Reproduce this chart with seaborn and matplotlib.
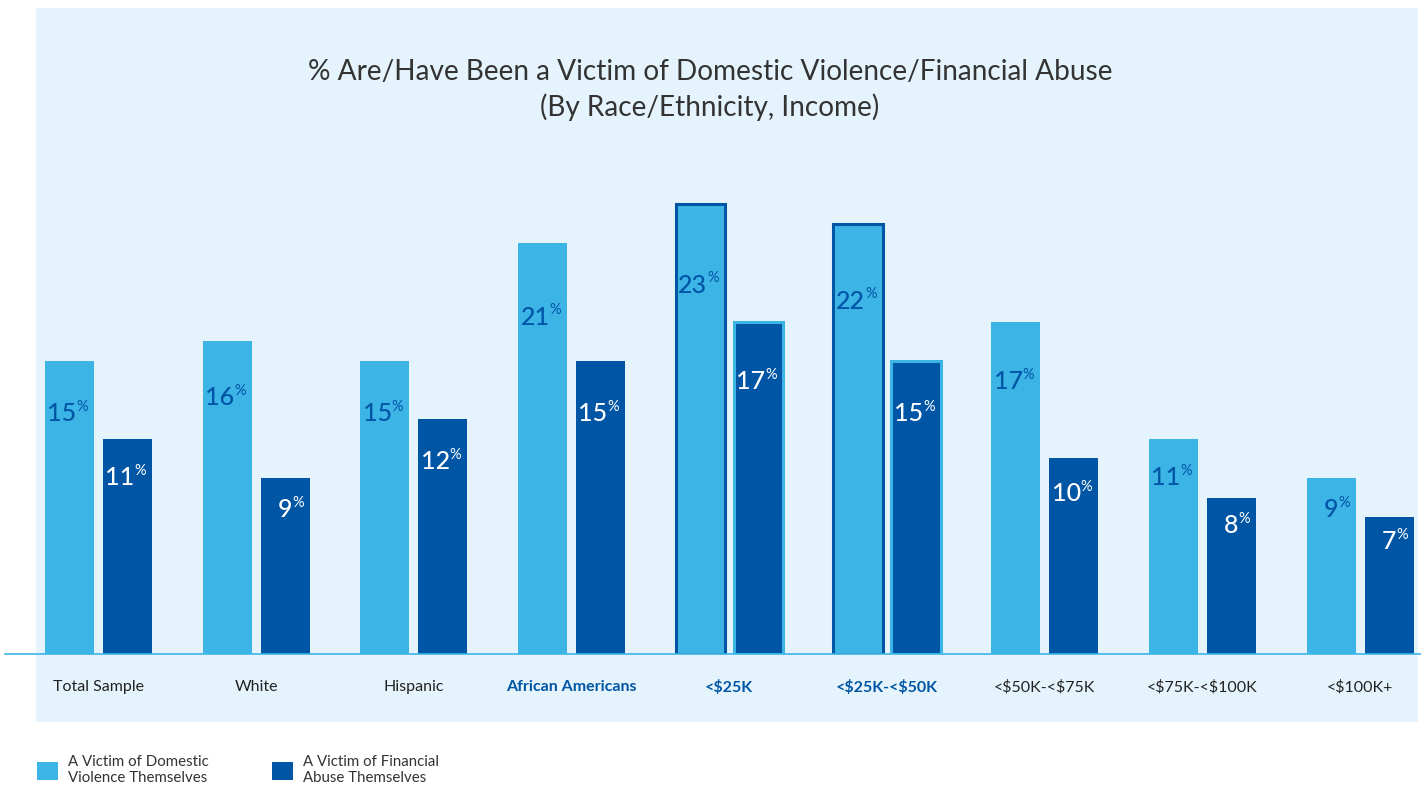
import pandas as pd
import seaborn as sns
import matplotlib.pyplot as plt
from matplotlib.patches import Rectangle

# ---------------------------------------------------------
# DATA
# ---------------------------------------------------------
categories = ['Total Sample', 'White', 'Hispanic', 'African Americans', '<$25K',
              '<$25K-<$50K', '<$50K-<$75K', '<$75K-<$100K', '<$100K+']
domestic_violence = [15, 16, 15, 21, 23, 22, 17, 11, 9]
financial_abuse = [11, 9, 12, 15, 17, 15, 10, 8, 7]
series_names = ['A Victim of Domestic\nViolence Themselves',
                'A Victim of Financial\nAbuse Themselves']
highlight = ['African Americans', '<$25K', '<$25K-<$50K']
outlined = ['<$25K', '<$25K-<$50K']

LIGHT = '#3DB4E6'
DARK = '#0055A5'
PANEL = '#E5F4FC'

df = pd.DataFrame({'cat': categories, series_names[0]: domestic_violence,
                   series_names[1]: financial_abuse})
df = df.melt(id_vars='cat', var_name='serie', value_name='pct')

# ---------------------------------------------------------
# FIGURE
# ---------------------------------------------------------
sns.set_style("white")
plt.rcParams['font.family'] = ['Lato', 'DejaVu Sans']
plt.rcParams['text.parse_math'] = False   # els $ no son matematiques

fig = plt.figure(figsize=(14.21, 7.87), dpi=100)
W, H = 1421, 787

# light blue background panel (behind the axes)
fig.patches.append(Rectangle((36 / W, (H - 722) / H), 1382 / W, 714 / H,
                             transform=fig.transFigure, facecolor=PANEL,
                             edgecolor='none', zorder=-5))

# axes: baseline at y=654 px, spans the whole width
ax = fig.add_axes([5 / W, (H - 654) / H, 1416 / W, 646 / H])
ax.set_facecolor('none')

sns.barplot(data=df, x='cat', y='pct', hue='serie', order=categories,
            hue_order=series_names, palette=[LIGHT, DARK], saturation=1,
            width=0.736, gap=0.155, edgecolor='none', linewidth=0, ax=ax, legend=True)

px_unit = 157.7
ax.set_xlim((5 - 98.5) / px_unit, (1421 - 98.5) / px_unit)
ax.set_ylim(0, 646 / 19.55)

# outlined bars for the income groups
for i, cat in enumerate(categories):
    if cat in outlined:
        ax.containers[0][i].set_edgecolor(DARK)
        ax.containers[0][i].set_linewidth(2.2)
        ax.containers[1][i].set_edgecolor(LIGHT)
        ax.containers[1][i].set_linewidth(2.2)

# value labels inside the bars
for k, cont in enumerate(ax.containers):
    col = DARK if k == 0 else 'white'
    for bar in cont:
        v = bar.get_height()
        xc = bar.get_x() + bar.get_width() / 2
        y = v * 0.82
        ax.annotate(f"{v:.0f}", (xc, y), xytext=(5, 0), textcoords='offset points',
                    ha='right', va='center', fontsize=18, fontweight='medium', color=col)
        ax.annotate("%", (xc, y), xytext=(5, 5), textcoords='offset points',
                    ha='left', va='center', fontsize=10.5, color=col)

# axes styling
sns.despine(ax=ax, left=True, top=True, right=True)
ax.spines['bottom'].set_color(LIGHT)
ax.spines['bottom'].set_linewidth(1.2)
ax.set_yticks([])
ax.set_xlabel("")
ax.set_ylabel("")
ax.tick_params(axis='x', length=0, pad=19, labelsize=11.5)
for lbl in ax.get_xticklabels():
    if lbl.get_text() in highlight:
        lbl.set_color(DARK)
        lbl.set_fontweight('bold')
    else:
        lbl.set_color('#222222')

# title
fig.text(710 / W, 1 - 90 / H,
         "% Are/Have Been a Victim of Domestic Violence/Financial Abuse\n(By Race/Ethnicity, Income)",
         ha='center', va='center', fontsize=20.2, color='#333333', linespacing=1.33)

# legend
handles, labels = ax.get_legend_handles_labels()
ax.get_legend().remove()
fig.legend(handles, labels, loc='lower left', bbox_to_anchor=(23 / W, -12 / H),
           ncol=2, frameon=False, fontsize=10.8, handlelength=1.4, handleheight=1.5,
           handletextpad=0.7, columnspacing=4.2, labelcolor='#333333')

plt.savefig('out.png', dpi=100)
plt.close()
